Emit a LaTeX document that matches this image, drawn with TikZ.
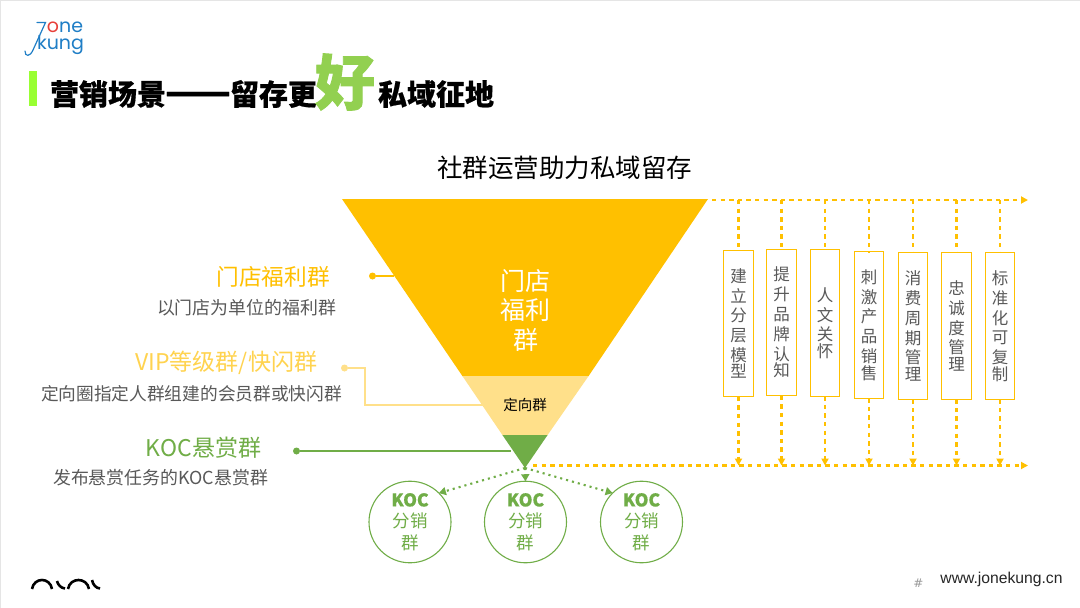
\documentclass[tikz,border=0pt]{standalone}
\usepackage{fontspec}
\usetikzlibrary{shapes.geometric,arrows.meta}
\setmainfont{Noto Sans CJK SC}[BoldFeatures={FakeBold=0.5}]
\newfontfamily\logofont{Poppins}
\newfontfamily\webfont{Liberation Sans}
\newfontfamily\symfont{DejaVu Sans}
\newfontfamily\haofont{Noto Sans CJK SC}[BoldFeatures={FakeBold=1.5}]
\newcommand{\pxs}[1]{\fontsize{#1}{#1}\selectfont}
\definecolor{gold}{HTML}{FFC000}
\definecolor{palegold}{HTML}{FFE08A}
\definecolor{vipgold}{HTML}{FFD34F}
\definecolor{leaf}{HTML}{70AD47}
\definecolor{lime}{HTML}{99FF33}
\definecolor{hao}{HTML}{92D050}
\definecolor{body}{HTML}{595959}
\definecolor{logoblue}{HTML}{1F7EC6}
\definecolor{logored}{HTML}{E8403A}
\tikzset{
  x=1pt,y=-1pt,
  every node/.style={inner sep=0pt,outer sep=0pt},
  titletext/.style={text=black,font=\pxs{29}\bfseries,anchor=west},
  headgold/.style={text=gold,font=\pxs{22.7},anchor=east},
  headvip/.style={text=vipgold,font=\pxs{23},anchor=east},
  headleaf/.style={text=leaf,font=\pxs{23},anchor=east},
  subtext/.style={text=body,font=\pxs{17.9},anchor=east},
  stagebox/.style={draw=gold,line width=1.1pt,fill=white,text=body,font=\pxs{16.5},align=center,text width=22pt,minimum width=29.5pt,minimum height=146.5pt},
  kocring/.style={ellipse,draw=leaf,line width=1.1pt,minimum width=82pt,minimum height=76pt,text=leaf,font=\pxs{17.5},align=center},
  flowline/.style={draw=gold,line width=2.3pt,dash pattern=on 4.4pt off 4.2pt},
  flowarrow/.style={flowline,-{Triangle[length=7pt,width=7pt,fill=gold]}},
  dotarrow/.style={draw=leaf,line width=2.1pt,dash pattern=on 2.1pt off 4pt,-{Triangle[length=7pt,width=8pt,fill=leaf]}},
  leaderdot/.style={circle,minimum size=7pt},
  leader/.style={line width=2pt},
}
\begin{document}
\begin{tikzpicture}
\useasboundingbox (0,0) rectangle (1080,608);
\fill[white] (0,0) rectangle (1080,608);
\draw[gray!20,line width=1pt] (0.5,608) -- (0.5,0.5) -- (1080,0.5);

% logo
\node (logoone) at (65,27) [text=logoblue,font=\logofont\pxs{19}] {{\color{logored}o}ne};
\node (logokung) at (60.5,45.5) [text=logoblue,font=\logofont\pxs{19}] {kung};
\draw[logoblue,line width=1.2pt,line cap=round] (37,22.5) -- (45.5,22.5) -- (33,50) .. controls (30,57) and (25,57) .. (25,51);

% title
\fill[lime] (29,71) rectangle (36.5,106);
\node (t1) at (50,94) [titletext] {营销场景};
\node (t2) at (165,98.5) [text=black,font=\pxs{38.5}\bfseries,anchor=west] {——};
\node (t3) at (230,94) [titletext] {留存更};
\node (t4) at (345,82) [text=hao,font=\haofont\pxs{60}\bfseries] {好};
\node (t5) at (378,94) [titletext] {私域征地};
\node (sub) at (564.5,167.5) [text=black,font=\pxs{25.5}] {社群运营助力私域留存};

% funnel
\fill[gold] (342,199) -- (708,199) -- (588.6,376) -- (462.4,376) -- cycle;
\fill[palegold] (462.4,376) -- (588.6,376) -- (547.6,435) -- (502.4,435) -- cycle;
\fill[leaf] (502.4,435) -- (547.6,435) -- (525,468) -- cycle;
\node (f1) at (525.5,310) [text=white,font=\pxs{25},align=center] {门店\\[4.5pt]福利\\[4.5pt]群};
\node (f2) at (525,405) [text=black,font=\pxs{14.5}] {定向群};
\coordinate (apex) at (525,468);
\coordinate (edgeA) at (394,276);
\coordinate (edgeB) at (483,405);
\coordinate (edgeC) at (511,451);

% left labels
\node (l1) at (330,277) [headgold] {门店福利群};
\node (l1s) at (336,308) [subtext] {以门店为单位的福利群};
\node (l2) at (317,363) [headvip] {VIP等级群/快闪群};
\node (l2s) at (342,394) [subtext,font=\pxs{17.7}] {定向圈指定人群组建的会员群或快闪群};
\node (l3) at (261,448) [headleaf] {KOC悬赏群};
\node (l3s) at (268,478) [subtext] {发布悬赏任务的KOC悬赏群};

\node (d1) at (372.5,276) [leaderdot,fill=gold] {};
\node (d2) at (344.5,368) [leaderdot,fill=palegold] {};
\node (d3) at (296.5,451) [leaderdot,fill=leaf] {};
\draw[leader,gold] (d1) -- (edgeA);
\draw[leader,palegold] (d2) -- (365,368) -- (365,405) -- (edgeB);
\draw[leader,leaf] (d3) -- (edgeC);

% stage boxes
\coordinate (topstart) at (712,200);
\coordinate (topend) at (1028,200);
\coordinate (botstart) at (533,465.5);
\coordinate (botend) at (1028,465.5);
\draw[flowarrow] (topstart) -- (topend);
\draw[flowarrow] (botstart) -- (botend);
\newcommand{\stagetxt}[1]{\baselineskip=19.8pt #1}
\node (b1) at (738.5,323.5) [stagebox] {\stagetxt{建\\立\\分\\层\\模\\型}};
\node (b2) at (781.5,322.5) [stagebox] {\stagetxt{提\\升\\品\\牌\\认\\知}};
\node (b3) at (825,323) [stagebox] {\stagetxt{人\\文\\关\\怀}};
\node (b4) at (869,325) [stagebox] {\stagetxt{刺\\激\\产\\品\\销\\售}};
\node (b5) at (913,326) [stagebox] {\stagetxt{消\\费\\周\\期\\管\\理}};
\node (b6) at (956.5,326) [stagebox] {\stagetxt{忠\\诚\\度\\管\\理}};
\node (b7) at (1000,326) [stagebox] {\stagetxt{标\\准\\化\\可\\复\\制}};
\foreach \b in {b1,b2,b3,b4,b5,b6,b7}{
  \draw[flowline] (\b.north |- topstart) -- (\b.north);
  \draw[flowarrow] (\b.south) -- (\b.south |- botstart);
}

% KOC circles
\node (c1) at (410,522) [kocring] {\textbf{KOC}\\[4pt]分销\\[4pt]群};
\node (c2) at (525.5,522) [kocring] {\textbf{KOC}\\[4pt]分销\\[4pt]群};
\node (c3) at (641.5,522) [kocring] {\textbf{KOC}\\[4pt]分销\\[4pt]群};
\draw[dotarrow] (apex) -- (c1.45);
\draw[dotarrow] (apex) -- (c2.north);
\draw[dotarrow] (apex) -- (c3.135);

% footer
\draw[black,line width=2.6pt] (32,589) .. controls (34,577) and (50,577) .. (52,589);
\draw[black,line width=2.6pt] (57,581) .. controls (58,585) and (61,588) .. (65,588.5);
\draw[black,line width=2.6pt] (68,589) .. controls (70,577) and (87,577) .. (89,589);
\draw[black,line width=2.6pt] (92,580) .. controls (93,585) and (96,588) .. (100,588.5);
\node (hash) at (918.5,583) [text=gray!80,font=\symfont\pxs{12}] {\#};
\node (web) at (1001.5,579) [text=black!85,font=\webfont\pxs{15.7}] {www.jonekung.cn};
\end{tikzpicture}
\end{document}
